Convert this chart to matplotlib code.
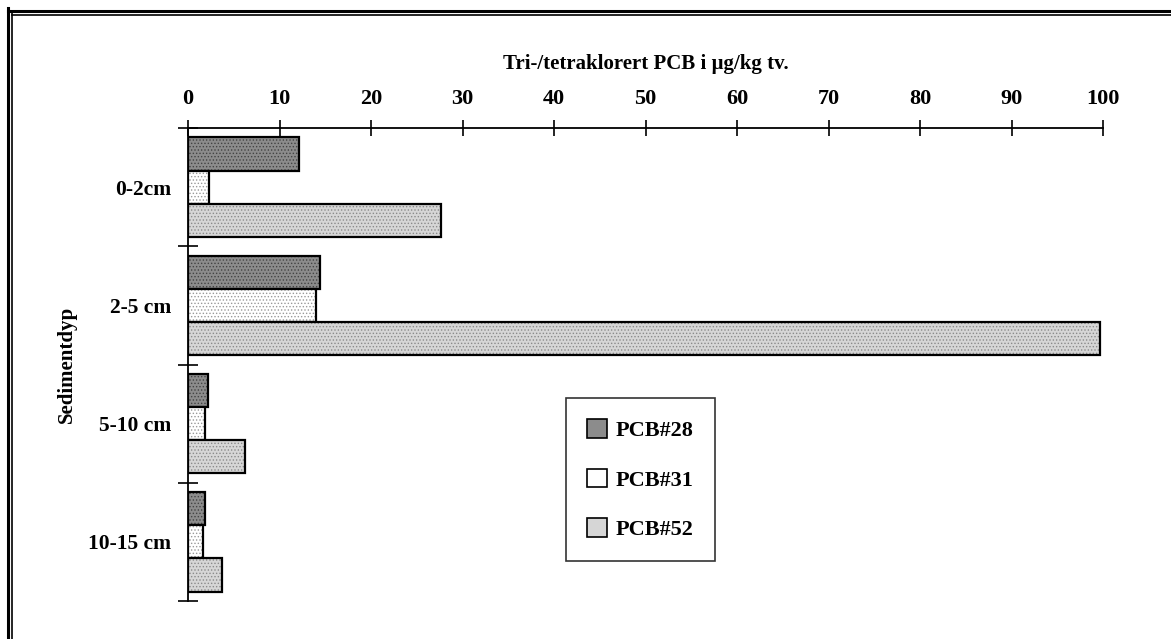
import numpy as np
import matplotlib.pyplot as plt
from matplotlib.lines import Line2D

plt.rcParams['font.family'] = ['Liberation Serif', 'DejaVu Serif']
plt.rcParams['font.weight'] = 'bold'
plt.rcParams['hatch.linewidth'] = 0.6

depths = ['0-2cm', '2-5 cm', '5-10 cm', '10-15 cm']
pcb28 = [12.1, 14.4, 2.2, 1.9]
pcb31 = [2.3, 14.0, 1.9, 1.6]
pcb52 = [27.6, 99.7, 6.2, 3.7]
series = ['PCB#28', 'PCB#31', 'PCB#52']
xticks = list(range(0, 101, 10))

W, H = 1171, 639
fig = plt.figure(figsize=(W / 100, H / 100), dpi=100)
ax = fig.add_axes([188 / W, 1 - 601 / H, 915 / W, (601 - 128) / H])

y = np.arange(len(depths))
h = 0.28
styles = [('#8c8c8c', '#444444'), ('#ffffff', '#999999'), ('#d6d6d6', '#8a8a8a')]
handles = []
for i, (vals, name) in enumerate(zip([pcb28, pcb31, pcb52], series)):
    face, dots = styles[i]
    pos = y + (i - 1) * h
    ax.barh(pos, vals, height=h, color=face, edgecolor='none')
    ax.barh(pos, vals, height=h, color='none', edgecolor=dots, hatch='.....', linewidth=0)
    ax.barh(pos, vals, height=h, color='none', edgecolor='black', linewidth=1.6, label=name)
    handles.append(plt.Rectangle((0, 0), 1, 1, facecolor=face, edgecolor='black', linewidth=1.2))

ax.set_xlim(0, 100)
ax.set_ylim(len(depths) - 0.5, -0.5)

ax.xaxis.tick_top()
ax.set_xticks(xticks)
ax.tick_params(axis='x', direction='inout', length=12, width=1.2, pad=8, labelsize=16)
ax.set_yticks(y)
ax.set_yticklabels(depths)
ax.tick_params(axis='y', which='major', length=0, pad=12, labelsize=15.5)
ax.set_yticks(np.arange(-0.5, len(depths)), minor=True)
ax.tick_params(axis='y', which='minor', direction='inout', length=14, width=1.2)

for s in ['right', 'bottom']:
    ax.spines[s].set_visible(False)
for s in ['top', 'left']:
    ax.spines[s].set_linewidth(1.3)

ax.set_xlabel('Tri-/tetraklorert PCB i µg/kg tv.', fontsize=15, fontweight='bold')
ax.xaxis.set_label_position('top')
ax.xaxis.set_label_coords(0.5, 1.125)
ax.set_ylabel('Sedimentdyp', fontsize=15, fontweight='bold')
ax.yaxis.set_label_coords(-0.121, 0.5)

leg = ax.legend(handles, series, loc='upper left',
                bbox_to_anchor=(566 / W, 1 - 398 / H), bbox_transform=fig.transFigure,
                frameon=True, fancybox=False, labelspacing=1.25,
                handlelength=0.9, handleheight=0.9, handletextpad=0.4,
                borderpad=0.95, borderaxespad=0, prop={'weight': 'bold', 'size': 16})
leg.get_frame().set_edgecolor('black')
leg.get_frame().set_linewidth(1.2)

# double border of the original frame
for px, lw in [(8, 2.2), (12, 1.2)]:
    fig.add_artist(Line2D([px / W, px / W], [0, 1 - px / H], color='black', lw=lw))
    fig.add_artist(Line2D([px / W, 1], [1 - (px + 3) / H, 1 - (px + 3) / H], color='black', lw=lw))

fig.savefig('out.png', dpi=100)
